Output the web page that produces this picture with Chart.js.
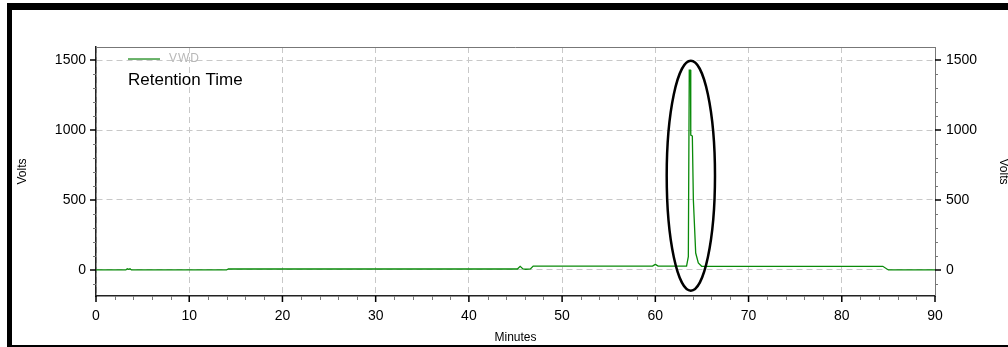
<!DOCTYPE html>
<html>
<head>
<meta charset="utf-8">
<script src="https://cdn.jsdelivr.net/npm/chart.js@4"></script>
<style>
  html, body { margin: 0; padding: 0; background: #fff; overflow: hidden; }
  #frame {
    position: absolute; left: 7px; top: 3px; width: 1100px; height: 335px;
    border-top: 7px solid #000; border-left: 5px solid #000; border-bottom: 2px solid #000;
  }
  #wrap { position: absolute; left: 0; top: 0; width: 1008px; height: 347px; }
</style>
</head>
<body>
<div id="frame"></div>
<div id="wrap"><canvas id="chromChart" width="1008" height="347"></canvas></div>
<script>
// chromatogram trace (minutes / volts)
var times = [0, 3.2, 3.35, 3.5, 3.65, 3.8, 14.0, 14.2, 45.2, 45.5, 45.8, 46.1, 46.6, 46.9,
             59.7, 60.0, 60.3, 63.35, 63.54, 63.64, 63.77, 63.8, 63.97, 64.08, 64.33, 64.61,
             64.97, 84.4, 85.0, 90];
var volts = [0, 0, 8, 4, 8, 0, 0, 7, 7, 26, 7, 5, 7, 28,
             28, 40, 28, 28, 95, 1428, 1428, 964, 957, 500, 121, 50,
             26, 26, 0, 0];
var xTicks = [0, 10, 20, 30, 40, 50, 60, 70, 80, 90];
var yTicks = [0, 500, 1000, 1500];
var seriesName = 'VWD';
var note = 'Retention Time';
// circled peak: centre and radii in data units
var ringCentre = [63.81, 673];
var ringRadius = [2.59, 821];

var font = "'Liberation Sans', Arial, sans-serif";

var points = times.map(function (t, i) { return { x: t, y: volts[i] }; });

function setTicks(list) {
    return function (scale) {
        scale.ticks = list.map(function (v) { return { value: v }; });
    };
}
function plain(v) { return String(v); }

var extras = {
    id: 'extras',
    afterDraw: function (chart) {
        var ctx = chart.ctx;
        var area = chart.chartArea;
        var xs = chart.scales.x, ys = chart.scales.y;
        ctx.save();

        // top border of the plot
        ctx.strokeStyle = '#777';
        ctx.lineWidth = 1;
        ctx.beginPath();
        ctx.moveTo(area.left, area.top + 0.5);
        ctx.lineTo(area.right, area.top + 0.5);
        ctx.stroke();

        // minor tick marks
        ctx.strokeStyle = '#777';
        ctx.lineWidth = 1;
        ctx.beginPath();
        for (var m = 0; m <= 90; m += 2) {
            if (m % 10 === 0) continue;
            var px = Math.round(xs.getPixelForValue(m)) + 0.5;
            ctx.moveTo(px, area.bottom);
            ctx.lineTo(px, area.bottom + 4);
        }
        for (var v = -100; v <= 1500; v += 100) {
            if (v % 500 === 0) continue;
            var py = Math.round(ys.getPixelForValue(v)) + 0.5;
            ctx.moveTo(area.left - 3, py);
            ctx.lineTo(area.left, py);
            ctx.moveTo(area.right, py);
            ctx.lineTo(area.right + 3, py);
        }
        ctx.stroke();

        // major tick marks
        ctx.strokeStyle = '#000';
        ctx.lineWidth = 1.5;
        ctx.beginPath();
        xTicks.forEach(function (t) {
            var px = xs.getPixelForValue(t);
            ctx.moveTo(px, area.bottom);
            ctx.lineTo(px, area.bottom + 6);
        });
        yTicks.forEach(function (t) {
            var py = ys.getPixelForValue(t);
            ctx.moveTo(area.left - 6, py);
            ctx.lineTo(area.left, py);
            ctx.moveTo(area.right, py);
            ctx.lineTo(area.right + 6, py);
        });
        ctx.stroke();

        // legend
        var ly = ys.getPixelForValue(1500) - 1;
        ctx.strokeStyle = '#3a9a3a';
        ctx.lineWidth = 1.5;
        ctx.beginPath();
        ctx.moveTo(128, ly);
        ctx.lineTo(160, ly);
        ctx.stroke();
        ctx.fillStyle = '#b8b8b8';
        ctx.font = '12px ' + font;
        ctx.textBaseline = 'middle';
        ctx.letterSpacing = '1px';
        ctx.fillText(seriesName, 169, ly);
        ctx.letterSpacing = '0px';

        ctx.fillStyle = '#000';
        ctx.font = '17px ' + font;
        ctx.textBaseline = 'alphabetic';
        ctx.fillText(note, 128, 85);

        // ellipse round the peak
        var cx = xs.getPixelForValue(ringCentre[0]);
        var cy = ys.getPixelForValue(ringCentre[1]);
        var rx = xs.getPixelForValue(ringCentre[0] + ringRadius[0]) - cx;
        var ry = cy - ys.getPixelForValue(ringCentre[1] + ringRadius[1]);
        ctx.strokeStyle = '#000';
        ctx.lineWidth = 2.5;
        ctx.beginPath();
        ctx.ellipse(cx, cy, rx, ry, 0, 0, Math.PI * 2);
        ctx.stroke();

        ctx.restore();
    }
};

var ctx = document.getElementById('chromChart').getContext('2d');
var chromChart = new Chart(ctx, {
    type: 'line',
    data: {
        datasets: [{
            label: seriesName,
            data: points,
            borderColor: '#0a8a0a',
            borderWidth: 1.3,
            pointRadius: 0,
            tension: 0,
            fill: false
        }]
    },
    options: {
        responsive: false,
        animation: false,
        layout: { padding: { top: 47, left: 0, right: 0, bottom: 0 } },
        plugins: { legend: { display: false }, tooltip: { enabled: false } },
        scales: {
            x: {
                type: 'linear',
                position: 'bottom',
                min: 0,
                max: 90,
                afterBuildTicks: setTicks(xTicks),
                afterFit: function (s) { s.height = 51; },
                ticks: { padding: 12, color: '#000', font: { family: font, size: 14 }, callback: plain },
                grid: { color: '#c8c8c8', drawTicks: false },
                border: { color: '#222', width: 1.5, dash: [6, 4] },
                title: {
                    display: true, text: 'Minutes', color: '#000',
                    font: { family: font, size: 12 }, padding: { top: 0, bottom: 2 }
                }
            },
            y: {
                position: 'left',
                min: -186,
                max: 1593,
                afterBuildTicks: setTicks(yTicks),
                afterFit: function (s) { s.width = 96; },
                ticks: { padding: 10, color: '#000', font: { family: font, size: 14 }, callback: plain },
                grid: { color: '#c8c8c8', drawTicks: false },
                border: { color: '#222', width: 1.5, dash: [6, 4] },
                title: {
                    display: true, text: 'Volts', color: '#000',
                    font: { family: font, size: 12 }, padding: { top: 15, bottom: 0 }
                }
            },
            y2: {
                position: 'right',
                min: -186,
                max: 1593,
                afterBuildTicks: setTicks(yTicks),
                afterFit: function (s) { s.width = 73; },
                ticks: { padding: 11, color: '#000', font: { family: font, size: 14 }, callback: plain },
                grid: { drawOnChartArea: false, drawTicks: false },
                border: { color: '#777', width: 1 },
                title: {
                    display: true, text: 'Volts', color: '#000',
                    font: { family: font, size: 12 }, padding: { top: -3, bottom: 0 }
                }
            }
        }
    },
    plugins: [extras]
});
</script>
</body>
</html>
